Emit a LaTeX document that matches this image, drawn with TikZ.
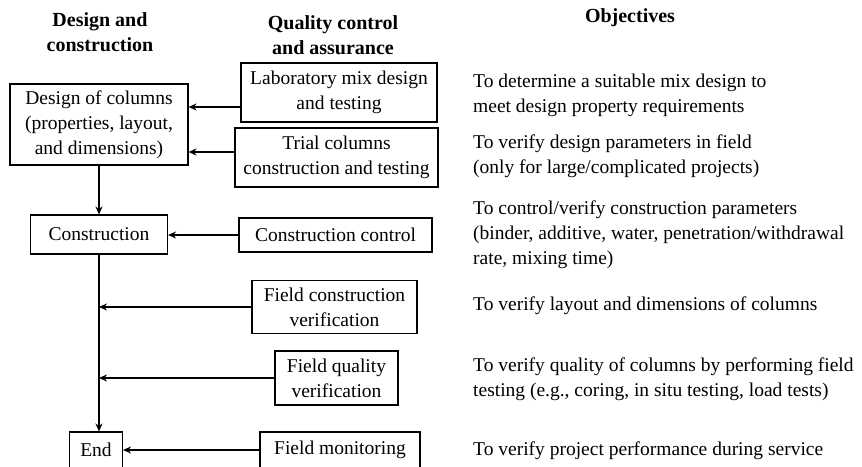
\documentclass[tikz,border=0pt]{standalone}
\usepackage{fontspec}
\setmainfont{Liberation Serif}
\usetikzlibrary{arrows.meta}
\begin{document}
\begin{tikzpicture}[x=1pt,y=-1pt,
  every node/.style={font=\fontsize{19.5}{25}\selectfont},
  box/.style={draw, line width=1.1pt, align=center, inner sep=0pt},
  hdr/.style={font=\fontsize{20}{25}\selectfont\bfseries, align=center, inner sep=0pt},
  obj/.style={anchor=west, align=left, inner sep=0pt},
  arr/.style={line width=1.8pt, -{Stealth[length=8pt,width=7pt]}}]
\useasboundingbox (0,0) rectangle (862,466);
% headers
\node[hdr] (h1) at (100,32) {Design and\\construction};
\node[hdr] (h2) at (333,35) {Quality control\\and assurance};
\node[hdr] (h3) at (630,18) {Objectives};
% left column
\node[box, minimum width=178pt, minimum height=81pt] (des) at (99,124.5) {Design of columns\\(properties, layout,\\and dimensions)};
\node[box, minimum width=137pt, minimum height=39pt] (cons) at (99,234.5) {Construction};
\node[box, minimum width=53pt, minimum height=36pt] (end) at (96,450) {End};
% middle column
\node[box, minimum width=196pt, minimum height=59pt] (lab) at (339,92.5) {Laboratory mix design\\and testing};
\node[box, minimum width=203pt, minimum height=59pt] (trial) at (336.5,157.5) {Trial columns\\construction and testing};
\node[box, minimum width=193pt, minimum height=34pt] (ctrl) at (335.5,235) {Construction control};
\node[box, minimum width=165pt, minimum height=53pt] (fcv) at (334.5,307) {Field construction\\verification};
\node[box, minimum width=123pt, minimum height=54pt] (fqv) at (336.5,378) {Field quality\\verification};
\node[box, minimum width=160pt, minimum height=36pt] (mon) at (340,450) {Field monitoring};
% objectives
\node[obj] (o1) at (473,95) {To determine a suitable mix design to\\meet design property requirements};
\node[obj] (o2) at (473,156) {To verify design parameters in field\\(only for large/complicated projects)};
\node[obj] (o3) at (473,234.5) {To control/verify construction parameters\\(binder, additive, water, penetration/withdrawal\\rate, mixing time)};
\node[obj] (o4) at (473,305.5) {To verify layout and dimensions of columns};
\node[obj] (o5) at (473,379) {To verify quality of columns by performing field\\testing (e.g., coring, in situ testing, load tests)};
\node[obj] (o6) at (473,450.5) {To verify project performance during service};
% connectors
\draw[arr] ([yshift=-14.5pt]lab.west) -- ([yshift=-14.5pt]lab.west -| des.east);
\draw[arr] ([yshift=5.5pt]trial.west) -- ([yshift=5.5pt]trial.west -| des.east);
\draw[arr] (des.south) -- (des.south |- cons.north);
\draw[arr] (ctrl.west) -- (ctrl.west -| cons.east);
\draw[arr] (cons.south) -- (cons.south |- end.north);
\draw[arr] (fcv.west) -- (fcv.west -| cons.south);
\draw[arr] (fqv.west) -- (fqv.west -| cons.south);
\draw[arr] (mon.west) -- (end.east);
\end{tikzpicture}
\end{document}
